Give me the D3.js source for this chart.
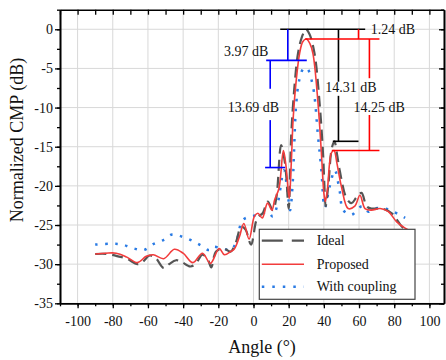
<!DOCTYPE html>
<html>
<head>
<meta charset="utf-8">
<script src="https://cdn.jsdelivr.net/npm/d3@7"></script>
<style>
  body { margin: 0; background: #fff; }
  svg { display: block; }
  svg text { font-family: "Liberation Serif", "Times New Roman", serif !important; }
</style>
</head>
<body>
<div id="chart"></div>
<script>
// tick values
const xTicks = [-100, -80, -60, -40, -20, 0, 20, 40, 60, 80, 100];
const yTicks = [0, -5, -10, -15, -20, -25, -30, -35];

// [angle (deg), normalized CMP (dB)]
const ideal = [
  [-90, -28.7], [-83, -28.7], [-77, -29.0], [-72, -29.3], [-66, -30.0], [-63, -29.7],
  [-59, -28.9], [-55.7, -29.2], [-51, -30.5], [-48, -30.0], [-44, -29.5], [-41, -29.7],
  [-36, -30.3], [-33, -30.0], [-29, -28.8], [-26, -29.4], [-24, -30.4], [-21.4, -28.4],
  [-17, -28.0], [-13, -28.4], [-10, -27.2], [-7, -25.2], [-4.5, -25.6], [-1.4, -27.5],
  [1.5, -24.5], [3, -23.9], [5.2, -23.5], [8.1, -22.0], [11, -23.1], [13, -21.5],
  [15.7, -14.8], [17.5, -16.5], [18.6, -18.7], [20, -22.9], [21.4, -13.7], [23.3, -7.3],
  [25.3, -3.1], [27.5, -1.0], [29.8, 0], [31.8, -0.6], [34.7, -3.1], [37.6, -9.5],
  [39.5, -15.8], [40.5, -20.9], [41, -22.6], [42.5, -20], [44.5, -15.2], [46, -14.3],
  [47.5, -16], [49, -18], [52.9, -21.6], [55.7, -22.2], [58.5, -21.5], [61.4, -20.9],
  [64.3, -22.6], [67, -22.9], [73, -22.9], [78.6, -23.5], [84.3, -25.2], [88, -25.9]
];

const proposed = [
  [-90, -28.7], [-84, -28.6], [-78, -28.6], [-72, -29.1], [-66, -29.8], [-61, -29.0],
  [-57, -28.8], [-51, -29.3], [-45, -28.1], [-40, -28.6], [-34.5, -29.8], [-29, -28.6],
  [-24.5, -29.9], [-19.5, -28.0], [-16.5, -28.8], [-13, -28.4], [-11, -28.1], [-8, -26.5],
  [-5.5, -24.8], [-2.5, -26.8], [0.5, -23.9], [2.5, -23.5], [5, -24.1], [8, -22.2],
  [10.5, -23.1], [12, -21.8], [14.5, -20.3], [17, -15.5], [18.5, -17.5], [20.3, -21.6],
  [21.5, -17], [22.5, -11.6], [24.3, -6.5], [26.2, -3.1], [28, -1.6], [30, -1.24],
  [32, -1.8], [33.8, -3.1], [36.7, -9.5], [38.6, -15.8], [40, -20.9], [40.8, -22.0],
  [42, -20.5], [44.3, -15.8], [45.8, -15.5], [47.5, -17.2], [50, -20.1], [53.8, -22.9],
  [57.6, -22.6], [60.5, -21.2], [63.4, -22.9], [67, -23.1], [72, -22.9], [76.7, -23.3],
  [81.4, -24.6], [86.2, -25.4], [90, -25.8]
];

const coupling = [
  [-90, -27.5], [-81.4, -27.4], [-74.7, -27.5], [-68, -28.0], [-62.4, -28.2], [-56.7, -27.4],
  [-51, -26.9], [-46.2, -26.2], [-40.5, -26.5], [-35, -27.0], [-30, -27.6], [-25.2, -28.2],
  [-23.3, -27.8], [-17.6, -28.0], [-12.9, -28.2], [-10, -27.3], [-6.2, -24.4], [-1.4, -23.9],
  [3.3, -23.7], [8.1, -23.3], [11, -23.9], [13.8, -22.2], [17.3, -18.0], [19.2, -20.5],
  [20.8, -23.1], [22.4, -19.2], [23, -15.8], [24.3, -9.5], [26, -6.5], [28.5, -5.0],
  [30.5, -5.0], [33.8, -7.3], [36.7, -13.7], [38.6, -18], [40.5, -22.8], [43.3, -20.1],
  [46.2, -18.0], [49, -20.7], [51, -23.1], [55.7, -23.7], [59.5, -22.9], [62, -22.6],
  [65.3, -23.3], [68.1, -22.9], [74.7, -22.9], [79.5, -23.3], [86.2, -24.1]
];

const seriesNames = ["Ideal", "Proposed", "With coupling"];

// level-difference markers: main lobe / side lobe levels (dB)
const mainLevels = [0, -1.24, -3.97];
const sideLevels = [-14.31, -15.49, -17.66];
const diffLabels = ["1.24 dB", "3.97 dB", "14.31 dB", "14.25 dB", "13.69 dB"];

const W = 446, H = 360;
const FONT = "Liberation Serif, Times New Roman, serif";

const x = d3.scaleLinear().domain([-110, 108.3]).range([60, 444]);
const y = d3.scaleLinear().domain([-35, 2.5]).range([303.3, 9.7]);

const svg = d3.select("#chart").append("svg")
  .attr("width", W).attr("height", H)
  .attr("font-family", FONT);

// grid
svg.append("g").selectAll("line").data(xTicks).join("line")
  .attr("x1", d => x(d)).attr("x2", d => x(d))
  .attr("y1", y(2.5)).attr("y2", y(-35))
  .attr("stroke", "#d8d8d8").attr("stroke-width", 1);
svg.append("g").selectAll("line").data(yTicks).join("line")
  .attr("x1", x(-110)).attr("x2", x(108.3))
  .attr("y1", d => y(d)).attr("y2", d => y(d))
  .attr("stroke", "#d8d8d8").attr("stroke-width", 1);

// curves
const line = d3.line()
  .x(d => x(d[0])).y(d => y(d[1]))
  .curve(d3.curveCatmullRom.alpha(0.5));

svg.append("path").datum(coupling)
  .attr("d", line).attr("fill", "none")
  .attr("stroke", "#2a7be4").attr("stroke-width", 2.5)
  .attr("stroke-dasharray", "2.5,7.5");
svg.append("path").datum(ideal)
  .attr("d", line).attr("fill", "none")
  .attr("stroke", "#555").attr("stroke-width", 2.2)
  .attr("stroke-dasharray", "11,6");
svg.append("path").datum(proposed)
  .attr("d", line).attr("fill", "none")
  .attr("stroke", "#f23c3c").attr("stroke-width", 1.6);

// annotation brackets (data coords)
const ann = svg.append("g").attr("stroke-width", 1.6);
function seg(col, x1, y1, x2, y2) {
  ann.append("line")
    .attr("x1", x(x1)).attr("y1", y(y1))
    .attr("x2", x(x2)).attr("y2", y(y2))
    .attr("stroke", col);
}
// ideal (black)
seg("#000", 15.2, mainLevels[0], 63.5, mainLevels[0]);
seg("#000", 48.3, mainLevels[0], 48.3, -6.7);
seg("#000", 48.3, -8.5, 48.3, sideLevels[0]);
seg("#000", 45.1, sideLevels[0], 59.7, sideLevels[0]);
// proposed (red)
seg("#ff0000", 59.7, mainLevels[0], 59.7, mainLevels[1]);
seg("#ff0000", 29.4, mainLevels[1], 71.6, mainLevels[1]);
seg("#ff0000", 65.9, mainLevels[1], 65.9, -6.25);
seg("#ff0000", 65.9, -10.95, 65.9, sideLevels[1]);
seg("#ff0000", 44.5, sideLevels[1], 71.6, sideLevels[1]);
// with coupling (blue)
seg("#0000ff", 19.5, mainLevels[0], 19.5, mainLevels[2]);
seg("#0000ff", 7.2, mainLevels[2], 30.3, mainLevels[2]);
seg("#0000ff", 9.5, mainLevels[2], 9.5, -7.6);
seg("#0000ff", 9.5, -11.6, 9.5, sideLevels[2]);
seg("#0000ff", 6.6, sideLevels[2], 18, sideLevels[2]);

const annText = [
  { t: diffLabels[0], a: 66.7, v: 0, anchor: "start" },
  { t: diffLabels[1], a: 8.5, v: -2.77, anchor: "end" },
  { t: diffLabels[2], a: 55.4, v: -7.4, anchor: "middle" },
  { t: diffLabels[3], a: 71.5, v: -9.96, anchor: "middle" },
  { t: diffLabels[4], a: 0, v: -9.96, anchor: "middle" }
];
svg.append("g").selectAll("text").data(annText).join("text")
  .attr("x", d => x(d.a)).attr("y", d => y(d.v))
  .attr("dy", "0.33em")
  .attr("text-anchor", d => d.anchor)
  .attr("font-size", 14).attr("fill", "#111")
  .text(d => d.t);

// axes
const xMinor = d3.range(-110, 109, 10);
const yMinor = d3.range(-35, 2.6, 2.5);
const fmt = d => String(d);

function styleAxis(g) {
  g.attr("font-family", FONT).attr("font-size", 14);
  g.selectAll("path.domain").attr("stroke", "#000").attr("stroke-width", 1.6);
  g.selectAll(".tick line").attr("stroke", "#000").attr("stroke-width", 1.3);
  g.selectAll(".tick text").attr("fill", "#111");
}

svg.append("g").attr("transform", `translate(0,${y(-35)})`)
  .call(d3.axisBottom(x).tickValues(xMinor).tickSize(3).tickSizeOuter(0).tickFormat(""))
  .call(styleAxis);
svg.append("g").attr("transform", `translate(0,${y(-35)})`)
  .call(d3.axisBottom(x).tickValues(xTicks).tickSize(5).tickSizeOuter(0).tickPadding(8).tickFormat(fmt))
  .call(styleAxis);
svg.append("g").attr("transform", `translate(0,${y(2.5)})`)
  .call(d3.axisTop(x).tickValues(xMinor).tickSize(-5).tickSizeOuter(0).tickFormat(""))
  .call(styleAxis);

svg.append("g").attr("transform", `translate(${x(-110)},0)`)
  .call(d3.axisLeft(y).tickValues(yMinor).tickSize(3).tickSizeOuter(0).tickFormat(""))
  .call(styleAxis);
svg.append("g").attr("transform", `translate(${x(-110)},0)`)
  .call(d3.axisLeft(y).tickValues(yTicks).tickSize(5).tickSizeOuter(0).tickPadding(2).tickFormat(fmt))
  .call(styleAxis);
svg.append("g").attr("transform", `translate(${x(108.3)},0)`)
  .call(d3.axisRight(y).tickValues(yMinor).tickSize(-3).tickSizeOuter(0).tickFormat(""))
  .call(styleAxis);
svg.append("g").attr("transform", `translate(${x(108.3)},0)`)
  .call(d3.axisRight(y).tickValues(yTicks).tickSize(-5).tickSizeOuter(0).tickFormat(""))
  .call(styleAxis);

// axis titles
svg.append("text")
  .attr("x", 262).attr("y", 353)
  .attr("text-anchor", "middle").attr("font-size", 18).attr("fill", "#111")
  .text("Angle (°)");
svg.append("text")
  .attr("transform", "translate(23,140) rotate(-90)")
  .attr("text-anchor", "middle").attr("font-size", 18).attr("fill", "#111")
  .text("Normalized CMP (dB)");

// legend
const leg = svg.append("g").attr("transform", "translate(259.3,229.3)");
leg.append("rect")
  .attr("width", 155.7).attr("height", 70)
  .attr("fill", "#fff").attr("stroke", "#444").attr("stroke-width", 1.2);
const legStyles = [
  { stroke: "#555", width: 2.2, dash: "21,9" },
  { stroke: "#f23c3c", width: 1.6, dash: null },
  { stroke: "#2a7be4", width: 2.5, dash: "2.5,8" }
];
const legRows = leg.selectAll("g.row").data(seriesNames).join("g")
  .attr("class", "row")
  .attr("transform", (d, i) => `translate(0,${[11.4, 35, 57.4][i]})`);
legRows.append("line")
  .attr("x1", 2.5).attr("x2", 44.7)
  .attr("stroke", (d, i) => legStyles[i].stroke)
  .attr("stroke-width", (d, i) => legStyles[i].width)
  .attr("stroke-dasharray", (d, i) => legStyles[i].dash);
legRows.append("text")
  .attr("x", 57.4).attr("dy", "0.33em")
  .attr("font-size", 14).attr("fill", "#111")
  .text(d => d);
</script>
</body>
</html>
